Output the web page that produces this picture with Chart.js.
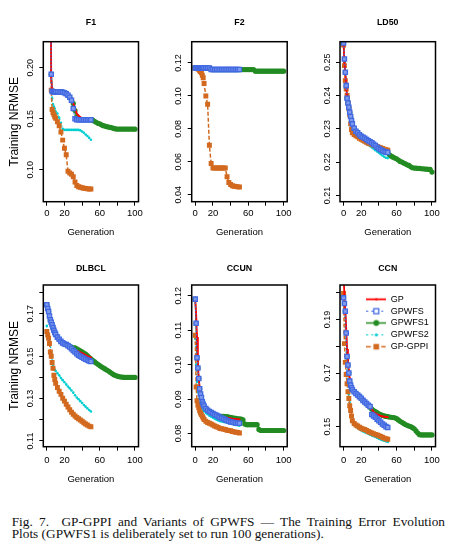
<!DOCTYPE html>
<html>
<head>
<meta charset="utf-8">
<script src="https://cdn.jsdelivr.net/npm/chart.js@4.4.1/dist/chart.umd.min.js"></script>
<style>
  html, body { margin: 0; padding: 0; background: #fff; }
  body { width: 456px; height: 552px; position: relative; overflow: hidden; }
  canvas { position: absolute; }
  .caption {
    position: absolute;
    left: 11.7px;
    width: 433.3px;
    font-family: 'Liberation Serif', 'Times New Roman', serif;
    font-size: 13.3px;
    line-height: 11.8px;
    color: #111;
  }
  #cap1 { top: 516px; text-align: justify; text-align-last: justify; }
  #cap2 { top: 528px; }
</style>
</head>
<body>
<div class="caption" id="cap1">Fig. 7.&nbsp; GP-GPPI and Variants of GPWFS — The Training Error Evolution</div>
<div class="caption" id="cap2">Plots (GPWFS1 is deliberately set to run 100 generations).</div>
<script>
const gensA = [0,1,2,3,4,5,6,7,8,9,10,12,14,16,18,20,22,24,26,28,30,32,34,36,38,40,42,44,46,48,50];
const gensB = [0,1,2,3,4,5,6,7,8,9,10,12,14,16,18,20,22,24,26,28,30,32,34,36,38,40,42,44,46,48,50,
               52,54,56,58,60,62,64,66,68,70,72,74,76,78,80,82,84,86,88,90,92,94,96,98,100];

const seriesNames = ['GP', 'GPWFS', 'GPWFS1', 'GPWFS2', 'GP-GPPI'];
const panelTitles = ['F1', 'F2', 'LD50', 'DLBCL', 'CCUN', 'CCN'];

const xRange = [-4, 104];
const xTicks = [0, 20, 40, 60, 80, 100];
const xTickLabels = ['0', '20', '', '60', '', '100'];

// ---- F1 ----
const f1Gp     = [0.90,0.80,0.70,0.60,0.40,0.1900,0.1775,0.1765,0.1765,0.1765,0.1765,
                  0.1765,0.1765,0.1763,0.1760,0.1755,0.1748,0.1735,0.1715,0.1685,0.1650,0.1600,0.1550,0.1530,0.1515,0.1505,0.1500,0.1495,0.1495,0.1495,0.1495];
const f1Gpwfs  = [0.90,0.80,0.70,0.60,0.40,0.1935,0.1770,0.1765,0.1765,0.1765,0.1765,
                  0.1765,0.1765,0.1763,0.1760,0.1755,0.1745,0.1730,0.1710,0.1680,0.1600,0.1500,0.1490,0.1490,0.1490,0.1490,0.1490,0.1490,0.1490,0.1490,0.1490];
const f1Gpwfs1 = [0.90,0.80,0.70,0.60,0.40,0.1935,0.1770,0.1765,0.1765,0.1765,0.1765,
                  0.1765,0.1765,0.1763,0.1760,0.1755,0.1745,0.1730,0.1710,0.1680,0.1650,0.1580,0.1520,0.1500,0.1492,0.1492,0.1492,0.1492,0.1492,0.1492,0.1490,
                  0.1485,0.1475,0.1465,0.1455,0.1450,0.1440,0.1432,0.1428,0.1422,0.1418,0.1415,0.1410,0.1405,0.1400,0.1398,0.1398,0.1398,0.1398,0.1398,0.1398,0.1398,0.1398,0.1398,0.1398,0.1397];
const f1Gpwfs2 = [0.90,0.80,0.70,0.60,0.40,0.1860,0.1700,0.1640,0.1620,0.1600,0.1570,
                  0.1550,0.1510,0.1460,0.1400,0.1390,0.1390,0.1390,0.1390,0.1390,0.1390,0.1390,0.1390,0.1390,0.1385,0.1375,0.1362,0.1345,0.1330,0.1312,0.1293];
const f1GpGppi = [0.90,0.80,0.70,0.60,0.40,0.1780,0.1590,0.1560,0.1540,0.1520,0.1505,
                  0.1470,0.1430,0.1370,0.1290,0.1210,0.1147,0.0984,0.0967,0.0955,0.0930,0.0880,0.0845,0.0832,0.0827,0.0822,0.0818,0.0815,0.0812,0.0810,0.0810];
const f1YRange = [0.0686, 0.2255];
const f1YTicks = [0.10, 0.15, 0.20];
const f1YLabels = ['0.10', '0.15', '0.20'];

// ---- F2 ----
const f2Gp     = [0.1170,0.1170,0.1170,0.1170,0.1170,0.1170,0.1170,0.1170,0.1170,0.1170,0.1170,
                  0.1170,0.1170,0.1162,0.1162,0.1162,0.1162,0.1162,0.1162,0.1162,0.1162,0.1162,0.1162,0.1162,0.1162,0.1162,0.1162,0.1162,0.1162,0.1162,0.1162];
const f2Gpwfs  = [0.1170,0.1170,0.1170,0.1170,0.1170,0.1170,0.1170,0.1170,0.1170,0.1170,0.1170,
                  0.1170,0.1170,0.1170,0.1160,0.1160,0.1160,0.1160,0.1160,0.1160,0.1160,0.1160,0.1160,0.1160,0.1160,0.1160,0.1160,0.1160,0.1160,0.1160,0.1160];
const f2Gpwfs1 = [0.1170,0.1170,0.1170,0.1170,0.1170,0.1170,0.1170,0.1170,0.1170,0.1170,0.1170,
                  0.1170,0.1170,0.1170,0.1160,0.1160,0.1160,0.1160,0.1160,0.1160,0.1160,0.1160,0.1160,0.1160,0.1160,0.1160,0.1160,0.1160,0.1160,0.1160,0.1160,
                  0.1160,0.1160,0.1160,0.1160,0.1160,0.1160,0.1160,0.1160,0.1150,0.1150,0.1150,0.1150,0.1150,0.1150,0.1150,0.1150,0.1150,0.1150,0.1150,0.1150,0.1150,0.1150,0.1150,0.1150,0.1150];
const f2Gpwfs2 = [0.1170,0.1170,0.1170,0.1170,0.1170,0.1170,0.1170,0.1170,0.1170,0.1170,0.1170,
                  0.1168,0.1166,0.1164,0.1162,0.1162,0.1162,0.1162,0.1162,0.1162,0.1162,0.1162,0.1162,0.1162,0.1162,0.1162,0.1162,0.1162,0.1162,0.1162,0.1162];
const f2GpGppi = [0.1170,0.1170,0.1168,0.1165,0.1162,0.1152,0.1148,0.1140,0.1125,0.1110,0.1075,
                  0.1000,0.0950,0.0700,0.0590,0.0563,0.0563,0.0563,0.0563,0.0563,0.0563,0.0563,0.0563,0.0510,0.0475,0.0462,0.0455,0.0452,0.0450,0.0448,0.0447];
const f2YRange = [0.0358, 0.1329];
const f2YTicks = [0.04, 0.06, 0.08, 0.10, 0.12];
const f2YLabels = ['0.04', '0.06', '0.08', '0.10', '0.12'];

// ---- LD50 ----
const ld50Gp     = [0.2558,0.2500,0.2470,0.2430,0.2392,0.2378,0.2362,0.2348,0.2335,0.2323,0.2313,
                    0.2300,0.2292,0.2287,0.2281,0.2277,0.2274,0.2271,0.2267,0.2263,0.2260,0.2257,0.2253,0.2249,0.2244,0.2240,0.2236,0.2233,0.2231,0.2229,0.2228];
const ld50Gpwfs  = [0.2558,0.2510,0.2470,0.2430,0.2392,0.2378,0.2365,0.2350,0.2337,0.2325,0.2315,
                    0.2302,0.2293,0.2288,0.2282,0.2278,0.2275,0.2272,0.2268,0.2264,0.2261,0.2258,0.2254,0.2250,0.2245,0.2241,0.2237,0.2234,0.2232,0.2230,0.2229];
const ld50Gpwfs1 = [0.2558,0.2510,0.2470,0.2430,0.2392,0.2378,0.2365,0.2350,0.2337,0.2325,0.2315,
                    0.2302,0.2293,0.2288,0.2282,0.2278,0.2275,0.2272,0.2268,0.2264,0.2261,0.2258,0.2254,0.2250,0.2245,0.2241,0.2237,0.2234,0.2232,0.2230,0.2228,
                    0.2222,0.2218,0.2215,0.2212,0.2210,0.2206,0.2202,0.2200,0.2197,0.2195,0.2192,0.2190,0.2186,0.2183,0.2182,0.2182,0.2181,0.2181,0.2180,0.2180,0.2179,0.2179,0.2178,0.2178,0.2170];
const ld50Gpwfs2 = [0.2555,0.2500,0.2465,0.2430,0.2395,0.2375,0.2360,0.2345,0.2330,0.2318,0.2305,
                    0.2295,0.2287,0.2279,0.2272,0.2267,0.2263,0.2259,0.2256,0.2252,0.2248,0.2244,0.2240,0.2236,0.2232,0.2228,0.2224,0.2220,0.2216,0.2213,0.2212];
const ld50GpGppi = [0.2552,0.2490,0.2445,0.2420,0.2400,0.2378,0.2360,0.2342,0.2315,0.2298,0.2288,
                    0.2283,0.2279,0.2276,0.2272,0.2269,0.2266,0.2263,0.2260,0.2257,0.2255,0.2253,0.2251,0.2249,0.2247,0.2245,0.2243,0.2241,0.2239,0.2237,0.2236];
const ld50YRange = [0.2081, 0.2562];
const ld50YTicks = [0.21, 0.22, 0.23, 0.24, 0.25];
const ld50YLabels = ['0.21', '0.22', '0.23', '0.24', '0.25'];

// ---- DLBCL ----
const dlGp     = [0.1743,0.1725,0.1711,0.1690,0.1672,0.1660,0.1648,0.1635,0.1622,0.1612,0.1603,
                  0.1590,0.1580,0.1570,0.1563,0.1558,0.1555,0.1550,0.1543,0.1536,0.1530,0.1528,0.1525,0.1522,0.1518,0.1515,0.1510,0.1505,0.1500,0.1497,0.1495];
const dlGpwfs  = [0.1743,0.1725,0.1711,0.1690,0.1672,0.1660,0.1648,0.1635,0.1622,0.1612,0.1603,
                  0.1590,0.1580,0.1570,0.1563,0.1558,0.1555,0.1550,0.1543,0.1535,0.1527,0.1520,0.1512,0.1505,0.1500,0.1495,0.1490,0.1486,0.1482,0.1478,0.1475];
const dlGpwfs1 = [0.1743,0.1725,0.1711,0.1690,0.1672,0.1660,0.1648,0.1635,0.1622,0.1612,0.1603,
                  0.1590,0.1580,0.1570,0.1563,0.1558,0.1555,0.1550,0.1545,0.1542,0.1540,0.1540,0.1535,0.1530,0.1525,0.1520,0.1515,0.1510,0.1503,0.1495,0.1488,
                  0.1480,0.1474,0.1468,0.1462,0.1456,0.1450,0.1445,0.1440,0.1435,0.1430,0.1424,0.1418,0.1413,0.1409,0.1406,0.1404,0.1402,0.1401,0.1400,0.1400,0.1400,0.1400,0.1400,0.1400,0.1400];
const dlGpwfs2 = [0.1643,0.1615,0.1590,0.1570,0.1552,0.1520,0.1480,0.1455,0.1445,0.1437,0.1430,
                  0.1420,0.1410,0.1397,0.1387,0.1377,0.1367,0.1357,0.1348,0.1338,0.1328,0.1316,0.1305,0.1297,0.1288,0.1279,0.1270,0.1262,0.1254,0.1246,0.1239];
const dlGpGppi = [0.1617,0.1600,0.1585,0.1560,0.1520,0.1500,0.1470,0.1443,0.1410,0.1390,0.1372,
                  0.1352,0.1335,0.1320,0.1302,0.1288,0.1273,0.1260,0.1247,0.1236,0.1226,0.1218,0.1211,0.1205,0.1199,0.1193,0.1186,0.1180,0.1175,0.1170,0.1167];
const dlYRange = [0.1073, 0.1836];
const dlYTicks = [0.11, 0.12, 0.13, 0.14, 0.15, 0.16, 0.17, 0.18];
const dlYLabels = ['0.11', '', '0.13', '', '0.15', '', '0.17', ''];

// ---- CCUN ----
const ccunGp     = [0.1190,0.1150,0.1080,0.1000,0.0960,0.0935,0.0915,0.0900,0.0890,0.0883,0.0878,
                    0.0872,0.0867,0.0863,0.0860,0.0857,0.0855,0.0853,0.0851,0.0850,0.0849,0.0848,0.0847,0.0846,0.0845,0.0844,0.0843,0.0842,0.0842,0.0841,0.0841];
const ccunGpwfs  = [0.1190,0.1120,0.1020,0.0990,0.0960,0.0930,0.0915,0.0905,0.0892,0.0885,0.0880,
                    0.0873,0.0868,0.0864,0.0861,0.0858,0.0855,0.0853,0.0850,0.0847,0.0845,0.0843,0.0840,0.0838,0.0836,0.0834,0.0833,0.0832,0.0831,0.0830,0.0830];
const ccunGpwfs1 = [0.1190,0.1120,0.1020,0.0990,0.0960,0.0930,0.0915,0.0905,0.0892,0.0885,0.0880,
                    0.0873,0.0868,0.0864,0.0861,0.0858,0.0855,0.0853,0.0851,0.0850,0.0850,0.0850,0.0849,0.0849,0.0848,0.0847,0.0846,0.0845,0.0844,0.0843,0.0843,
                    0.0842,0.0840,0.0828,0.0826,0.0826,0.0826,0.0826,0.0826,0.0826,0.0826,0.0812,0.0809,0.0809,0.0809,0.0809,0.0809,0.0809,0.0809,0.0809,0.0809,0.0809,0.0809,0.0809,0.0809,0.0809];
const ccunGpwfs2 = [0.1075,0.1000,0.0950,0.0920,0.0900,0.0890,0.0882,0.0876,0.0872,0.0868,0.0865,
                    0.0860,0.0856,0.0852,0.0849,0.0846,0.0843,0.0840,0.0838,0.0836,0.0835,0.0834,0.0833,0.0832,0.0831,0.0830,0.0828,0.0826,0.0825,0.0824,0.0823];
const ccunGpGppi = [0.1085,0.0935,0.0895,0.0883,0.0875,0.0866,0.0860,0.0855,0.0850,0.0845,0.0841,
                    0.0836,0.0832,0.0830,0.0828,0.0825,0.0822,0.0820,0.0818,0.0815,0.0814,0.0813,0.0812,0.0810,0.0809,0.0808,0.0806,0.0805,0.0804,0.0803,0.0802];
const ccunYRange = [0.0762, 0.1231];
const ccunYTicks = [0.08, 0.09, 0.10, 0.11, 0.12];
const ccunYLabels = ['0.08', '0.09', '0.10', '0.11', '0.12'];

// ---- CCN ----
const ccnGp     = [0.2070,0.1990,0.1935,0.1870,0.1790,0.1740,0.1710,0.1680,0.1660,0.1648,0.1640,
                   0.1632,0.1625,0.1619,0.1613,0.1607,0.1599,0.1593,0.1587,0.1581,0.1575,0.1565,0.1555,0.1550,0.1546,0.1543,0.1540,0.1538,0.1537,0.1536,0.1535];
const ccnGpwfs  = [0.1981,0.1960,0.1931,0.1850,0.1762,0.1730,0.1700,0.1670,0.1655,0.1645,0.1638,
                   0.1630,0.1624,0.1618,0.1612,0.1606,0.1598,0.1592,0.1586,0.1580,0.1575,0.1545,0.1540,0.1535,0.1528,0.1522,0.1516,0.1510,0.1505,0.1500,0.1497];
const ccnGpwfs1 = [0.1981,0.1960,0.1931,0.1850,0.1762,0.1730,0.1700,0.1670,0.1655,0.1645,0.1638,
                   0.1630,0.1624,0.1618,0.1612,0.1606,0.1598,0.1592,0.1586,0.1580,0.1572,0.1565,0.1560,0.1556,0.1552,0.1548,0.1545,0.1542,0.1540,0.1538,0.1537,
                   0.1536,0.1535,0.1534,0.1533,0.1530,0.1525,0.1520,0.1516,0.1512,0.1508,0.1505,0.1502,0.1500,0.1496,0.1492,0.1484,0.1476,0.1470,0.1469,0.1469,0.1469,0.1469,0.1469,0.1469,0.1469];
const ccnGpwfs2 = [0.1990,0.1930,0.1850,0.1760,0.1700,0.1660,0.1620,0.1590,0.1560,0.1540,0.1525,
                   0.1510,0.1500,0.1495,0.1490,0.1486,0.1482,0.1479,0.1476,0.1473,0.1470,0.1467,0.1464,0.1461,0.1458,0.1455,0.1452,0.1449,0.1447,0.1445,0.1443];
const ccnGpGppi = [0.1997,0.1810,0.1740,0.1695,0.1660,0.1630,0.1605,0.1578,0.1560,0.1540,0.1522,
                   0.1512,0.1506,0.1502,0.1498,0.1494,0.1491,0.1489,0.1486,0.1482,0.1479,0.1476,0.1473,0.1471,0.1469,0.1466,0.1463,0.1460,0.1457,0.1455,0.1453];
const ccnYRange = [0.1425, 0.2029];
const ccnYTicks = [0.15, 0.16, 0.17, 0.18, 0.19, 0.20];
const ccnYLabels = ['0.15', '', '0.17', '', '0.19', ''];

const panelValues = [
  [f1Gp, f1Gpwfs, f1Gpwfs1, f1Gpwfs2, f1GpGppi],
  [f2Gp, f2Gpwfs, f2Gpwfs1, f2Gpwfs2, f2GpGppi],
  [ld50Gp, ld50Gpwfs, ld50Gpwfs1, ld50Gpwfs2, ld50GpGppi],
  [dlGp, dlGpwfs, dlGpwfs1, dlGpwfs2, dlGpGppi],
  [ccunGp, ccunGpwfs, ccunGpwfs1, ccunGpwfs2, ccunGpGppi],
  [ccnGp, ccnGpwfs, ccnGpwfs1, ccnGpwfs2, ccnGpGppi]
];
const panelYRange = [f1YRange, f2YRange, ld50YRange, dlYRange, ccunYRange, ccnYRange];
const panelYTicks = [f1YTicks, f2YTicks, ld50YTicks, dlYTicks, ccunYTicks, ccnYTicks];
const panelYLabels = [f1YLabels, f2YLabels, ld50YLabels, dlYLabels, ccunYLabels, ccnYLabels];

// styles: order = drawing layer (0 on top)
const seriesStyle = [
  { color: '#ff0000', dash: [],       width: 1.8, point: 'rect',   radius: 1.2, fill: '#ff0000', pborder: 0,   order: 1 },
  { color: '#4169e1', dash: [1.5, 2], width: 1.2, point: 'rect',   radius: 3.0, fill: '#7f99ec', pborder: 1.3, order: 0 },
  { color: '#228b22', dash: [],       width: 1.5, point: 'circle', radius: 2.6, fill: '#228b22', pborder: 0,   order: 4 },
  { color: '#00ced1', dash: [1.5, 2], width: 1.2, point: 'circle', radius: 1.3, fill: '#00ced1', pborder: 0,   order: 3 },
  { color: '#d2691e', dash: [4, 2],   width: 1.5, point: 'rect',   radius: 3.5, fill: '#d2691e', pborder: 0,   order: 2 }
];

const colLayout = [
  { left: 0,   width: 150, yAxisW: 43.3, padRight: 11.5 },
  { left: 150, width: 150, yAxisW: 41.7, padRight: 12.8 },
  { left: 300, width: 156, yAxisW: 40,   padRight: 20.5 }
];
const rowLayout = [
  { top: 0,   height: 250, titleTop: 17.4, titleBottom: 13.74, xAxisH: 48.3, xTickPad: 1.9, xTitleBottom: 11.6 },
  { top: 250, height: 250, titleTop: 13.0, titleBottom: 11.44, xAxisH: 53.3, xTickPad: 3.6, xTitleBottom: 15.3 }
];

Chart.defaults.font.family = "'Liberation Sans', Arial, Helvetica, sans-serif";
Chart.defaults.color = '#000';

// full box round the plot region
const boxPlugin = {
  id: 'box',
  afterDatasetsDraw(chart) {
    const { ctx, chartArea: a } = chart;
    ctx.save();
    ctx.strokeStyle = '#000';
    ctx.lineWidth = 1.5;
    ctx.strokeRect(a.left, a.top, a.right - a.left, a.bottom - a.top);
    ctx.restore();
  }
};

// move the in-plot legend to the top right part of the plot region
const legendShift = {
  id: 'legendShift',
  afterLayout(chart, args, opts) {
    const lg = chart.legend;
    if (!lg || !opts || opts.dx === undefined) return;
    lg.left = chart.chartArea.left + opts.dx;
    lg.top = chart.chartArea.top + opts.dy;
  }
};

// small line + marker symbol for the legend
function makeIcon(st) {
  const c = document.createElement('canvas');
  c.width = 20; c.height = 9;
  const g = c.getContext('2d');
  g.strokeStyle = st.color;
  g.lineWidth = st.width;
  g.setLineDash(st.dash.length ? [st.dash[0] + 0.5, st.dash[1] + 1] : []);
  g.beginPath(); g.moveTo(0, 4.5); g.lineTo(20, 4.5); g.stroke();
  g.setLineDash([]);
  g.fillStyle = st.color;
  if (st.point === 'circle') {
    g.beginPath(); g.arc(10, 4.5, st.radius + 0.3, 0, Math.PI * 2); g.fill();
  } else if (st.pborder) {
    g.fillStyle = '#fff';
    g.fillRect(7.5, 2, 5, 5);
    g.lineWidth = 1.3;
    g.strokeRect(7.5, 2, 5, 5);
  } else {
    const s = st.radius * 1.6;
    g.fillRect(10 - s / 2, 4.5 - s / 2, s, s);
  }
  return c;
}
const legendIcons = seriesStyle.map(makeIcon);

function buildDatasets(values) {
  return seriesNames.map((name, i) => {
    const st = seriesStyle[i];
    const xs = i === 2 ? gensB : gensA;
    return {
      label: name,
      data: values[i].map((v, k) => ({ x: xs[k], y: v })),
      borderColor: st.color,
      borderWidth: st.width,
      borderDash: st.dash,
      tension: 0,
      fill: false,
      pointStyle: st.point,
      pointRadius: st.radius,
      pointBackgroundColor: st.fill,
      pointBorderColor: st.color,
      pointBorderWidth: st.pborder,
      order: st.order
    };
  });
}

function buildChart(p) {
  const col = colLayout[p % 3];
  const row = rowLayout[Math.floor(p / 3)];
  const canvas = document.createElement('canvas');
  canvas.width = col.width;
  canvas.height = row.height;
  canvas.style.left = col.left + 'px';
  canvas.style.top = row.top + 'px';
  document.body.appendChild(canvas);

  const isLegend = p === 5;
  const yTicks = panelYTicks[p];
  const yLabels = panelYLabels[p];
  const grid = { drawOnChartArea: false, drawTicks: true, tickLength: 4, color: '#000', tickColor: '#000', lineWidth: 1 };

  return new Chart(canvas, {
    type: 'line',
    data: { datasets: buildDatasets(panelValues[p]) },
    options: {
      responsive: false,
      animation: false,
      events: [],
      devicePixelRatio: 1,
      layout: { padding: { left: 0, right: col.padRight, top: 0, bottom: 0 } },
      scales: {
        x: {
          type: 'linear',
          position: 'bottom',
          min: xRange[0],
          max: xRange[1],
          bounds: 'data',
          afterBuildTicks: s => { s.ticks = xTicks.map(v => ({ value: v })); },
          afterFit: s => { s.height = row.xAxisH; },
          ticks: {
            autoSkip: false, maxRotation: 0, minRotation: 0,
            padding: row.xTickPad, font: { size: 9.5 }, color: '#000',
            callback: (v, i) => xTickLabels[i]
          },
          grid: grid,
          border: { display: false },
          title: { display: true, text: 'Generation', font: { size: 9.5 }, color: '#000', padding: { top: 0, bottom: row.xTitleBottom } }
        },
        y: {
          type: 'linear',
          position: 'left',
          min: panelYRange[p][0],
          max: panelYRange[p][1],
          bounds: 'data',
          afterBuildTicks: s => { s.ticks = yTicks.map(v => ({ value: v })); },
          afterFit: s => { s.width = col.yAxisW; },
          ticks: {
            autoSkip: false, minRotation: 90, maxRotation: 90, crossAlign: 'center',
            padding: 0, font: { size: 9 }, color: '#000',
            callback: (v, i) => yLabels[i]
          },
          grid: grid,
          border: { display: false },
          title: { display: p % 3 === 0, text: 'Training NRMSE', font: { size: 12 }, color: '#000', padding: { top: 7.8, bottom: 0 } }
        }
      },
      plugins: {
        title: {
          display: true, text: panelTitles[p], fullSize: false,
          font: { size: 8.8, weight: 'bold' }, color: '#000',
          padding: { top: row.titleTop, bottom: row.titleBottom }
        },
        legend: isLegend ? {
          display: true,
          position: 'chartArea',
          align: 'start',
          labels: {
            usePointStyle: true,
            pointStyleWidth: 20,
            padding: 2.85,
            color: '#000',
            font: { size: 9 },
            generateLabels: chart => chart.data.datasets.map((ds, i) => ({
              text: ds.label,
              pointStyle: legendIcons[i],
              fillStyle: ds.borderColor,
              strokeStyle: ds.borderColor,
              lineWidth: 0,
              hidden: false,
              datasetIndex: i,
              fontColor: '#000'
            }))
          }
        } : { display: false },
        tooltip: { enabled: false },
        legendShift: isLegend ? { dx: 23.45, dy: 6.95 } : {}
      }
    },
    plugins: [boxPlugin, legendShift]
  });
}

for (let p = 0; p < 6; p++) buildChart(p);
</script>
</body>
</html>
